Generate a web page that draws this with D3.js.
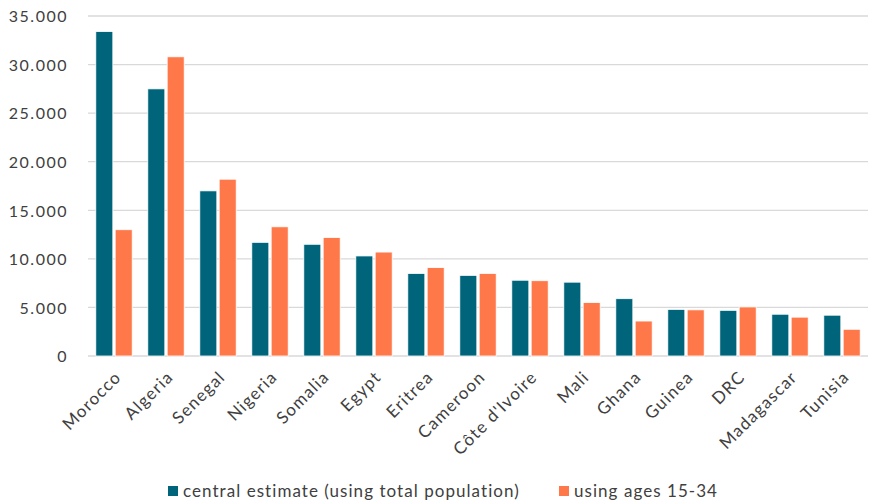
<!DOCTYPE html>
<html>
<head>
<meta charset="utf-8">
<script src="https://cdn.jsdelivr.net/npm/d3@7"></script>
<style>
  html, body { margin: 0; padding: 0; background: #fff; }
  svg text { font-family: Lato, "Open Sans", sans-serif; fill: #404040; }
</style>
</head>
<body>
<svg id="chart" width="870" height="504"></svg>
<script>
const countries = ["Morocco", "Algeria", "Senegal", "Nigeria", "Somalia", "Egypt", "Eritrea",
  "Cameroon", "Côte d'Ivoire", "Mali", "Ghana", "Guinea", "DRC", "Madagascar", "Tunisia"];
const centralEstimate = [33400, 27500, 17000, 11700, 11500, 10300, 8500, 8300, 7800, 7600, 5900, 4800, 4700, 4300, 4200];
const ages15to34 = [13000, 30800, 18200, 13300, 12200, 10700, 9100, 8500, 7750, 5500, 3600, 4750, 5050, 4000, 2750];
const seriesNames = ["central estimate (using total population)", "using ages 15-34"];
const yTicks = [0, 5000, 10000, 15000, 20000, 25000, 30000, 35000];

const colors = ["#00657b", "#ff7849"];
const svg = d3.select("#chart");
const margin = { left: 88, right: 2, top: 16, bottom: 148 };
const W = 870, H = 504;

const x = d3.scaleBand().domain(countries).range([margin.left, W - margin.right]).paddingInner(0.3).paddingOuter(0.15);
const x1 = d3.scaleBand().domain([0, 1]).range([0, x.bandwidth()]).paddingInner(0.12);
const y = d3.scaleLinear().domain([0, 35000]).range([H - margin.bottom, margin.top]);

const fmt = v => d3.format(",")(v).replace(/,/g, ".");

// horizontal gridlines
svg.append("g").selectAll("line").data(yTicks).join("line")
  .attr("x1", margin.left).attr("x2", W - margin.right)
  .attr("y1", d => y(d)).attr("y2", d => y(d))
  .attr("stroke", "#d9d9d9").attr("stroke-width", 1.3);

// y axis labels
const yAxis = d3.axisLeft(y).tickValues(yTicks).tickFormat(fmt).tickSize(0).tickPadding(20);
svg.append("g").attr("transform", `translate(${margin.left},0)`).call(yAxis)
  .call(g => g.select(".domain").remove())
  .call(g => g.selectAll("text").attr("font-size", 16).attr("letter-spacing", 1.5)
    .attr("fill", "#404040").attr("dy", "0.36em"));

// grouped bars
const series = [centralEstimate, ages15to34];
series.forEach((vals, si) => {
  svg.append("g").selectAll("rect").data(countries).join("rect")
    .attr("x", d => x(d) + x1(si))
    .attr("width", x1.bandwidth())
    .attr("y", (d, i) => y(vals[i]))
    .attr("height", (d, i) => y(0) - y(vals[i]))
    .attr("fill", colors[si])
    .attr("stroke", "#fff").attr("stroke-width", 0.8);
});

// x axis labels rotated
const xAxis = d3.axisBottom(x).tickSize(0).tickPadding(0);
svg.append("g").attr("transform", `translate(0,${y(0)})`).call(xAxis)
  .call(g => g.select(".domain").remove())
  .call(g => g.selectAll("text")
    .attr("font-size", 17).attr("letter-spacing", 1.2).attr("fill", "#404040")
    .attr("text-anchor", "end")
    .attr("transform", "translate(4,18) rotate(-45)")
    .attr("dy", "0.35em").attr("y", 0));

// legend
const legendItems = [{ x: 168 }, { x: 559 }];
const lg = svg.append("g");
legendItems.forEach((it, i) => {
  lg.append("rect").attr("x", it.x).attr("y", 486).attr("width", 10).attr("height", 10).attr("fill", colors[i]);
  lg.append("text").attr("x", it.x + 15).attr("y", 491).attr("dy", "0.35em")
    .attr("font-size", 17).attr("letter-spacing", 1.05).text(seriesNames[i]);
});
</script>
</body>
</html>
